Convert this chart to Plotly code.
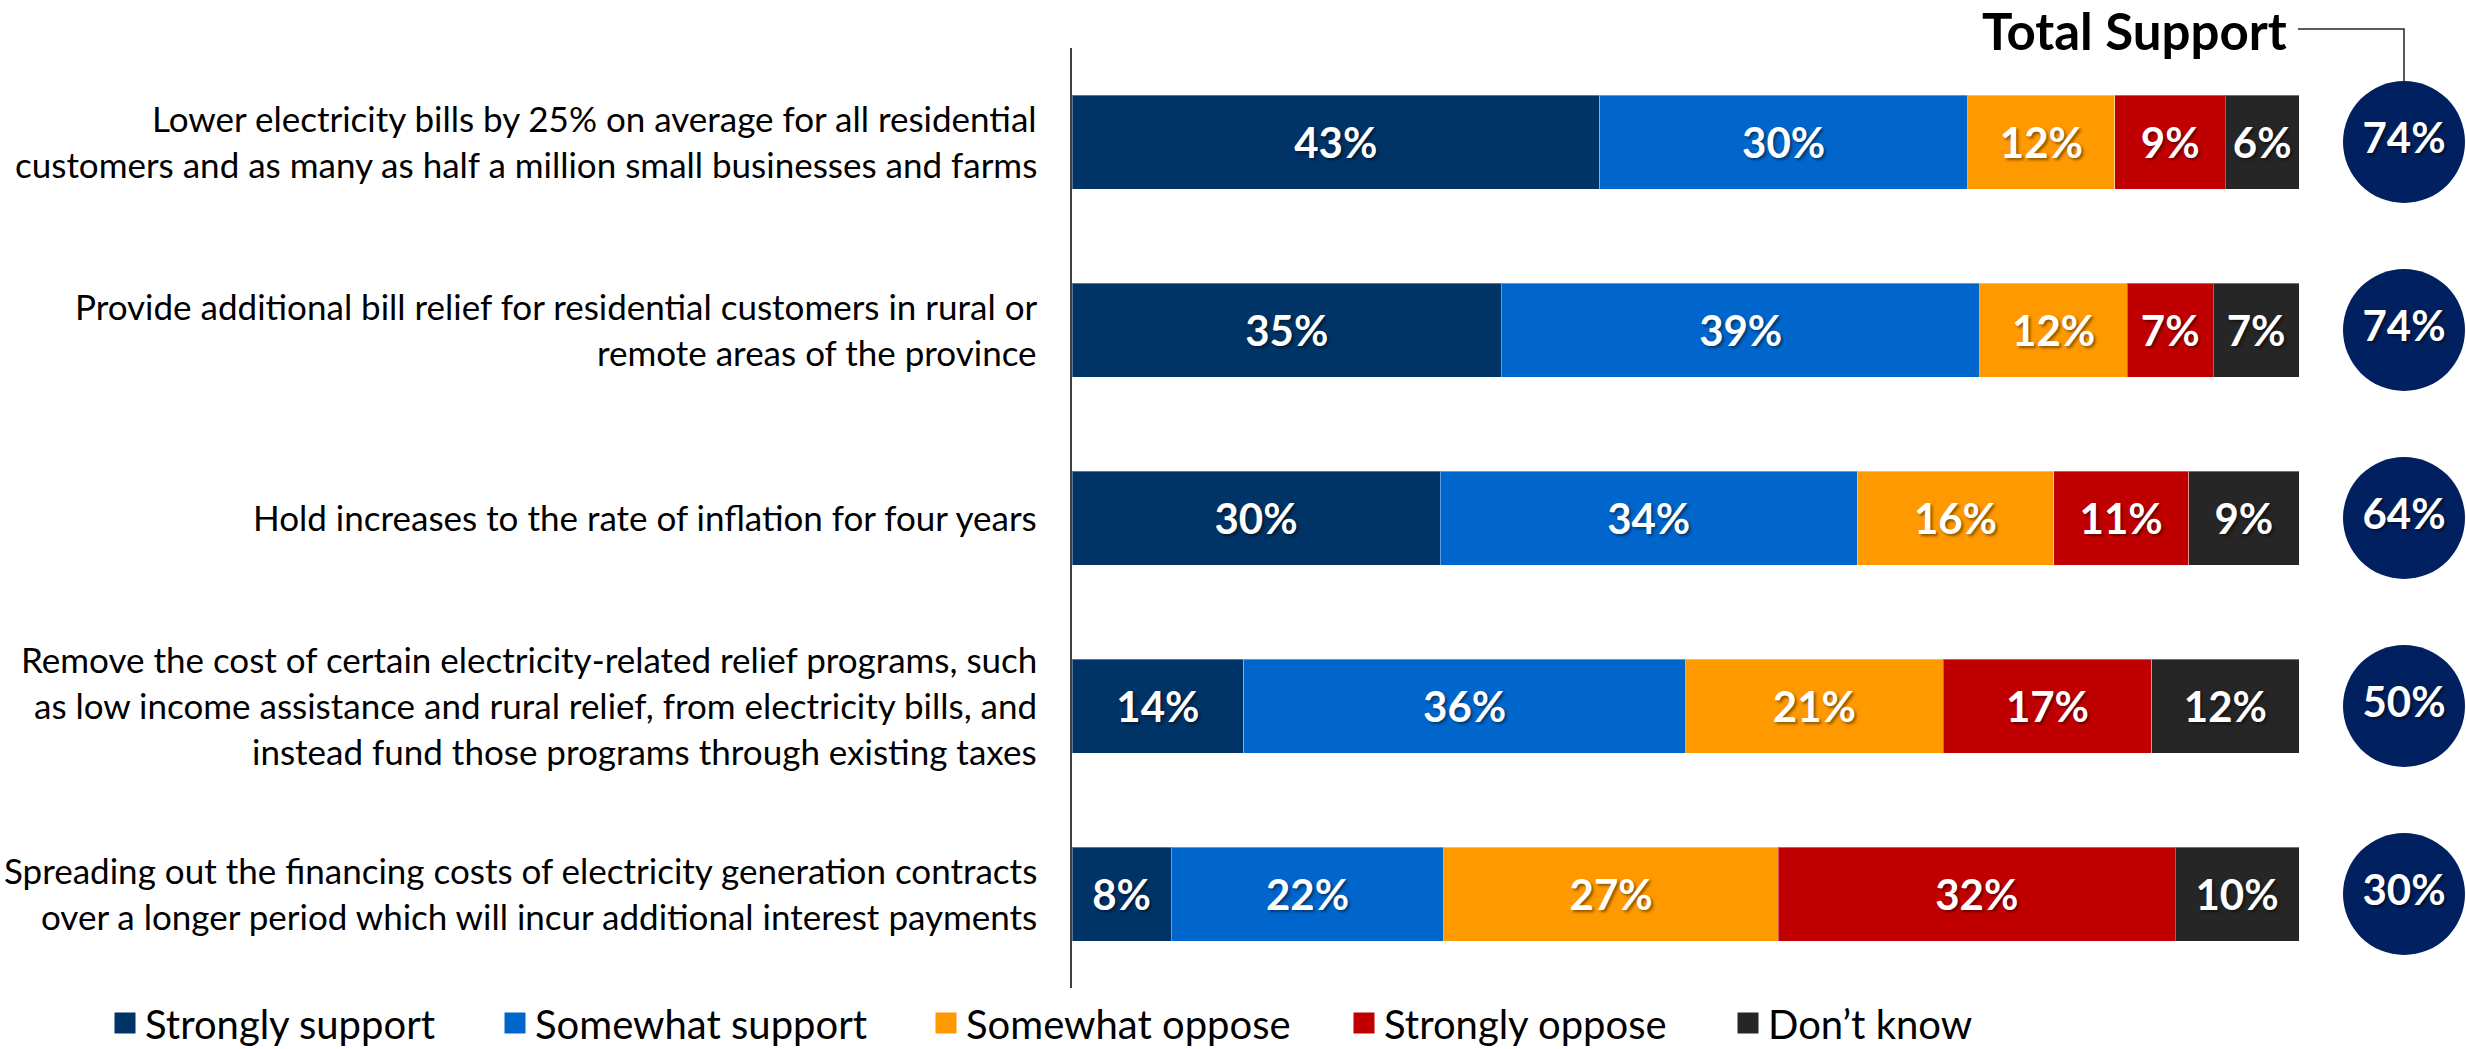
import plotly.graph_objects as go

# ---------------- data ----------------
categories = [
    "Lower electricity bills by 25% on average for all residential<br>customers and as many as half a million small businesses and farms",
    "Provide additional bill relief for residential customers in rural or<br>remote areas of the province",
    "Hold increases to the rate of inflation for four years",
    "Remove the cost of certain electricity-related relief programs, such<br>as low income assistance and rural relief, from electricity bills, and<br>instead fund those programs through existing taxes",
    "Spreading out the financing costs of electricity generation contracts<br>over a longer period which will incur additional interest payments",
]
series_names = ["Strongly support", "Somewhat support", "Somewhat oppose", "Strongly oppose", "Don\u2019t know"]
strongly_support = [43, 35, 30, 14, 8]
somewhat_support = [30, 39, 34, 36, 22]
somewhat_oppose = [12, 12, 16, 21, 27]
strongly_oppose = [9, 7, 11, 17, 32]
dont_know = [6, 7, 9, 12, 10]
total_support = [74, 74, 64, 50, 30]
series_values = [strongly_support, somewhat_support, somewhat_oppose, strongly_oppose, dont_know]

# ---------------- styles / layout constants ----------------
colors = ["#003366", "#0066CC", "#FF9900", "#C00000", "#262626"]
circle_color = "#002060"
FONT = "Lato"
W, H = 2466, 1049
ML, MT, MB = 1072, 48, 61
PX_PER_UNIT = 12.27
XMAX = (W - ML) / PX_PER_UNIT
CIRCLE_X = (2404 - ML) / PX_PER_UNIT
LINE_SPACING = 46
shadow = "2px 2px 3px rgba(0,0,0,0.45)"

fig = go.Figure()

for name, vals, col in zip(series_names, series_values, colors):
    fig.add_trace(go.Bar(
        y=categories, x=vals, orientation="h", name=name,
        marker=dict(color=col, line=dict(color="rgba(255,255,255,0.35)", width=1)),
        text=[f"{v}%" for v in vals], textposition="inside",
        insidetextanchor="middle", textangle=0,
        textfont=dict(family=FONT, size=42, color="white", weight="bold", shadow=shadow),
        showlegend=False, hoverinfo="skip",
    ))

# total support circles
fig.add_trace(go.Scatter(
    y=categories, x=[CIRCLE_X] * len(categories), mode="markers+text",
    marker=dict(size=122, color=circle_color, line=dict(width=0)),
    text=[f"{v}%" for v in total_support], textposition="middle center",
    textfont=dict(family=FONT, size=42, color="white", weight="bold", shadow=shadow),
    showlegend=False, hoverinfo="skip", cliponaxis=False,
))

# legend entries (one legend per entry to reproduce spacing)
legend_x_px = [105, 495, 926, 1344, 1728]
legend_keys = ["legend", "legend2", "legend3", "legend4", "legend5"]
for name, col, key in zip(series_names, colors, legend_keys):
    fig.add_trace(go.Scatter(
        x=[None], y=[None], mode="markers", name=name,
        marker=dict(symbol="square", size=16, color=col, line=dict(color=col, width=5)),
        legend=key, showlegend=True, hoverinfo="skip",
    ))

plot_h = H - MT - MB
legend_layout = {}
for key, px in zip(legend_keys, legend_x_px):
    legend_layout[key] = dict(
        x=(px - ML) / (W - ML), y=-(1023 - (H - MB)) / plot_h,
        xanchor="left", yanchor="middle", orientation="h",
        bgcolor="rgba(0,0,0,0)", font=dict(family=FONT, size=40, color="#000000"),
        itemclick=False, itemdoubleclick=False,
    )

# category labels as annotations (one per line to match line spacing)
annotations = []
for cat in categories:
    lines = cat.split("<br>")
    n = len(lines)
    for j, ln in enumerate(lines):
        annotations.append(dict(
            x=0, xref="paper", y=cat, yref="y", text=ln, showarrow=False,
            xanchor="right", yanchor="middle", xshift=-33,
            yshift=((n - 1) / 2 - j) * LINE_SPACING + 1,
            font=dict(family=FONT, size=35, color="#000000"),
        ))

annotations.append(dict(
    x=(2134 - ML) / PX_PER_UNIT, xref="x", y=1 + (MT - 31) / plot_h, yref="paper",
    text="<b>Total Support</b>", showarrow=False, xanchor="center", yanchor="middle",
    font=dict(family=FONT, size=51, color="#000000"),
))

shapes = [dict(
    type="path", xref="x", yref="paper",
    path=(f"M {(2298 - ML) / PX_PER_UNIT},{1 + (MT - 29) / plot_h} "
          f"L {CIRCLE_X},{1 + (MT - 29) / plot_h} L {CIRCLE_X},{1 - (82 - MT) / plot_h}"),
    line=dict(color="#262626", width=1.5),
)]

n_cat = len(categories)
fig.update_layout(
    width=W, height=H, barmode="stack", barnorm="percent", bargap=0.5,
    margin=dict(l=ML, r=0, t=MT, b=MB, autoexpand=False),
    plot_bgcolor="white", paper_bgcolor="white",
    xaxis=dict(range=[0, XMAX], showgrid=False, zeroline=False, showticklabels=False,
               showline=False, fixedrange=True),
    yaxis=dict(type="category", categoryorder="array", categoryarray=categories,
               range=[n_cat - 0.5, -0.5], autorange=False,
               showticklabels=False, showgrid=False, zeroline=False,
               showline=True, linecolor="#404040", linewidth=1.5, ticks="", fixedrange=True),
    uniformtext=dict(minsize=42, mode="show"),
    annotations=annotations, shapes=shapes, hovermode=False,
    **legend_layout,
)

fig.write_html("out.html", config={"displayModeBar": False},
               post_script="document.body.style.margin='0';document.body.style.overflow='hidden';")
